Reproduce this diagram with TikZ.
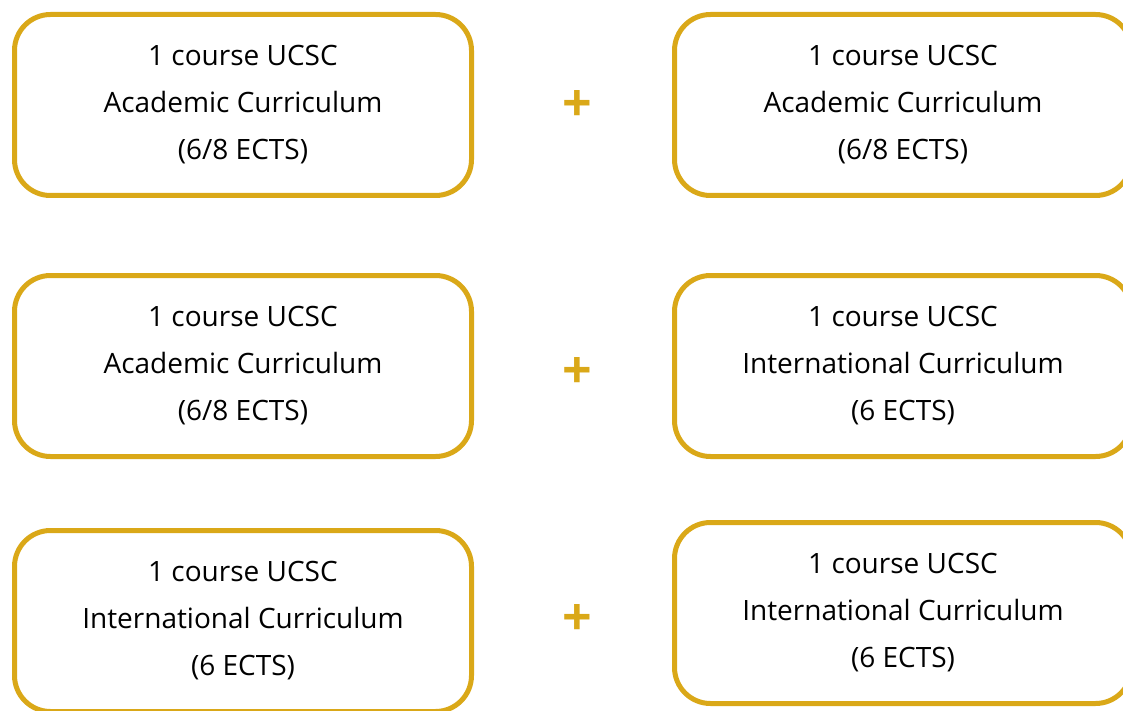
\documentclass[tikz,border=0pt]{standalone}
\usepackage{fontspec}
\setmainfont{Open Sans}
\definecolor{gold}{RGB}{218,168,24}
\begin{document}
\begin{tikzpicture}[x=0.5pt, y=-0.5pt,
        course/.style={draw=gold, line width=2.5pt, rounded corners=18pt,
            minimum width=228.5pt, minimum height=90.5pt, inner sep=0pt,
            align=center, font=\fontsize{14}{23.5}\selectfont},
        plus/.style={text=gold, inner sep=0pt, font=\fontsize{26}{26}\selectfont\bfseries}]
    \useasboundingbox (0,0) rectangle (1123,711);
    \clip (0,0) rectangle (1123,711);
    % first row
    \node[course] (acadA) at (243,105) {1 course UCSC\\Academic Curriculum\\(6/8 ECTS)};
    \node[course] (acadB) at (903,105) {1 course UCSC\\Academic Curriculum\\(6/8 ECTS)};
    \node[plus] (plusA) at (577,106) {+};
    % second row
    \node[course] (acadC) at (243,366) {1 course UCSC\\Academic Curriculum\\(6/8 ECTS)};
    \node[course] (intlA) at (903,366) {1 course UCSC\\International Curriculum\\(6 ECTS)};
    \node[plus] (plusB) at (577,373) {+};
    % third row
    \node[course] (intlB) at (243,621) {1 course UCSC\\International Curriculum\\(6 ECTS)};
    \node[course] (intlC) at (903,613) {1 course UCSC\\International Curriculum\\(6 ECTS)};
    \node[plus] (plusC) at (577,620) {+};
\end{tikzpicture}
\end{document}
